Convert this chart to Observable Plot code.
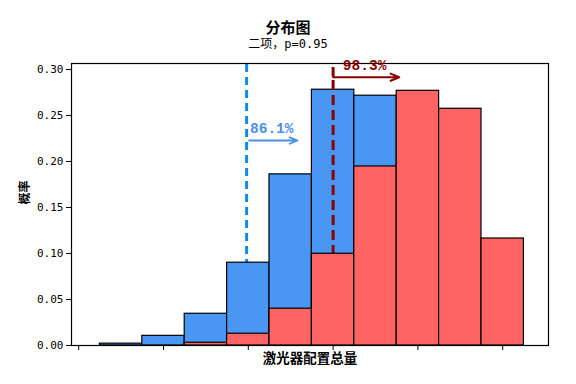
<!DOCTYPE html>
<html>
<head>
<meta charset="utf-8">
<script src="https://cdn.jsdelivr.net/npm/d3@7"></script>
<script src="https://cdn.jsdelivr.net/npm/@observablehq/plot@0.6"></script>
<style>
  body { margin: 0; background: #fff; width: 576px; height: 384px; overflow: hidden; }
  #head { height: 52px; text-align: center; position: relative; }
  #title { position: absolute; left: 0; right: 0; top: 18px; font: bold 15px "Noto Sans CJK SC", sans-serif; line-height: 18px; }
  #subtitle { position: absolute; left: 0; right: 0; top: 37px; font: 12px "DejaVu Sans Mono", "Noto Sans CJK SC", monospace; line-height: 15px; }
</style>
</head>
<body>
<div id="head"><div id="title">分布图</div><div id="subtitle">二项，p=0.95</div></div>
<div id="chart"></div>
<script>
const title = "分布图";
const subtitle = "二项，p=0.95";
const xLabel = "激光器配置总量";
const yLabel = "概率";

const blueX = [1, 2, 3, 4, 5, 6, 7];
const blueP = [0.002, 0.0105, 0.0345, 0.090, 0.186, 0.278, 0.2715];
const redX = [3, 4, 5, 6, 7, 8, 9, 10];
const redP = [0.003, 0.0128, 0.040, 0.0997, 0.1946, 0.2768, 0.2573, 0.1163];

const xTicks = [0, 2, 4, 6, 8, 10];
const yTicks = [0, 0.05, 0.10, 0.15, 0.20, 0.25, 0.30];

const blueCut = 3.96, blueLabel = "86.1%";
const redCut = 6.0, redLabel = "98.3%";

const blue = blueX.map((x, i) => ({x, p: blueP[i]}));
const red = redX.map((x, i) => ({x, p: redP[i]}));

const blueBar = "#4a96f3", redBar = "#ff6464";
const blueLine = "#0f8be8", blueText = "#4a90e8", darkRed = "#8b0000";

const chart = Plot.plot({
  width: 576,
  height: 332,
  marginLeft: 71,
  marginRight: 28,
  marginTop: 11,
  marginBottom: 39,
  style: {fontFamily: "'DejaVu Sans Mono', monospace", fontSize: "11px", background: "#fff", color: "#000"},
  x: {domain: [-0.17, 11.08], ticks: xTicks, tickFormat: () => "", tickSize: 5, label: null},
  y: {domain: [0, 0.3065], ticks: yTicks, tickFormat: d3.format(".2f"), tickSize: 5, tickPadding: 3, label: null},
  marks: [
    Plot.ruleX([blueCut], {y1: 0, y2: 0.3065, stroke: blueLine, strokeWidth: 3, strokeDasharray: "8,5"}),
    Plot.rectY(blue, {x1: d => d.x - 0.5, x2: d => d.x + 0.5, y1: 0, y2: "p", fill: blueBar, stroke: "#000", strokeWidth: 1.2}),
    Plot.ruleX([redCut], {y1: 0, y2: 0.2916, stroke: darkRed, strokeWidth: 3, strokeDasharray: "10,5"}),
    Plot.rectY(red, {x1: d => d.x - 0.5, x2: d => d.x + 0.5, y1: 0, y2: "p", fill: redBar, stroke: "#000", strokeWidth: 1.2}),
    Plot.frame({stroke: "#000", strokeWidth: 1.2}),
    Plot.ruleX([redCut], {y1: 0.2916, y2: 0.3022, stroke: darkRed, strokeWidth: 3}),
    Plot.arrow([0], {x1: redCut, x2: 7.56, y1: 0.2916, y2: 0.2916, stroke: darkRed, strokeWidth: 2, headLength: 7, headAngle: 45}),
    Plot.arrow([0], {x1: 4.02, x2: 5.16, y1: 0.2228, y2: 0.2228, stroke: blueText, strokeWidth: 1.8, headLength: 7, headAngle: 45}),
    Plot.text([blueLabel], {x: 4.04, y: 0.2355, text: d => d, textAnchor: "start", fill: blueText, fontSize: 14.5, fontWeight: "bold", fontFamily: "'Liberation Mono', monospace"}),
    Plot.text([redLabel], {x: 6.23, y: 0.3045, text: d => d, textAnchor: "start", fill: darkRed, fontSize: 14.5, fontWeight: "bold", fontFamily: "'Liberation Mono', monospace"}),
    Plot.text([yLabel], {frameAnchor: "left", dx: -46, rotate: -90, text: d => d, fontSize: 12, fontWeight: "bold", fontFamily: "'Noto Sans CJK SC', sans-serif"}),
    Plot.text([xLabel], {frameAnchor: "bottom", dy: 17, text: d => d, fontSize: 13.5, fontWeight: "bold", fontFamily: "'Noto Sans CJK SC', sans-serif"})
  ]
});
document.getElementById("chart").appendChild(chart);
</script>
</body>
</html>
